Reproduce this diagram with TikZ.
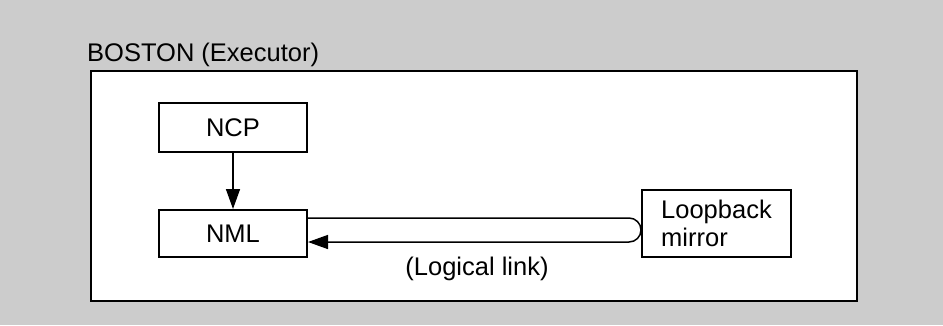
\documentclass[tikz,border=0pt]{standalone}
\usepackage{fontspec}
\setmainfont{Liberation Sans}
\usetikzlibrary{arrows.meta}
\begin{document}
\begin{tikzpicture}[x=1pt,y=-1pt,
  every node/.style={font=\fontsize{25.5}{28}\selectfont, inner sep=0pt},
  frame/.style={draw=black, line width=2.4pt, fill=white},
  procbox/.style={draw=black, line width=2pt, fill=white, anchor=north west},
  conn/.style={draw=black, line width=1.5pt},
  tip/.style={-{Triangle[length=20pt,width=14pt]}}
]
\definecolor{bggray}{gray}{0.80}
\fill[bggray] (0,0) rectangle (943,325);
\useasboundingbox (0,0) rectangle (943,325);
% outer frame
\node[frame, anchor=north west, minimum width=766pt, minimum height=230pt] (outer) at (89.5,70) {};
\node[anchor=base west] (title) at (87,61) {BOSTON (Executor)};
% boxes
\node[procbox, minimum width=148pt, minimum height=49pt] (ncp) at (158,102) {NCP};
\node[procbox, minimum width=148pt, minimum height=47pt] (nml) at (158,209) {NML};
\node[procbox, minimum width=149pt, minimum height=67pt, align=left] (loop) at (641,189) {Loopback\\mirror};
% arrow NCP -> NML
\draw[conn, tip] (ncp.south) -- (nml.north);
% logical link loop
\coordinate (ltop) at (629,218);
\coordinate (lbot) at (629,242);
\draw[conn, tip] (nml.east |- ltop) -- (ltop) arc[start angle=90, end angle=-90, radius=12pt] -- (nml.east |- lbot);
\node[anchor=base] (ll) at (477,275) {(Logical link)};
\end{tikzpicture}
\end{document}
